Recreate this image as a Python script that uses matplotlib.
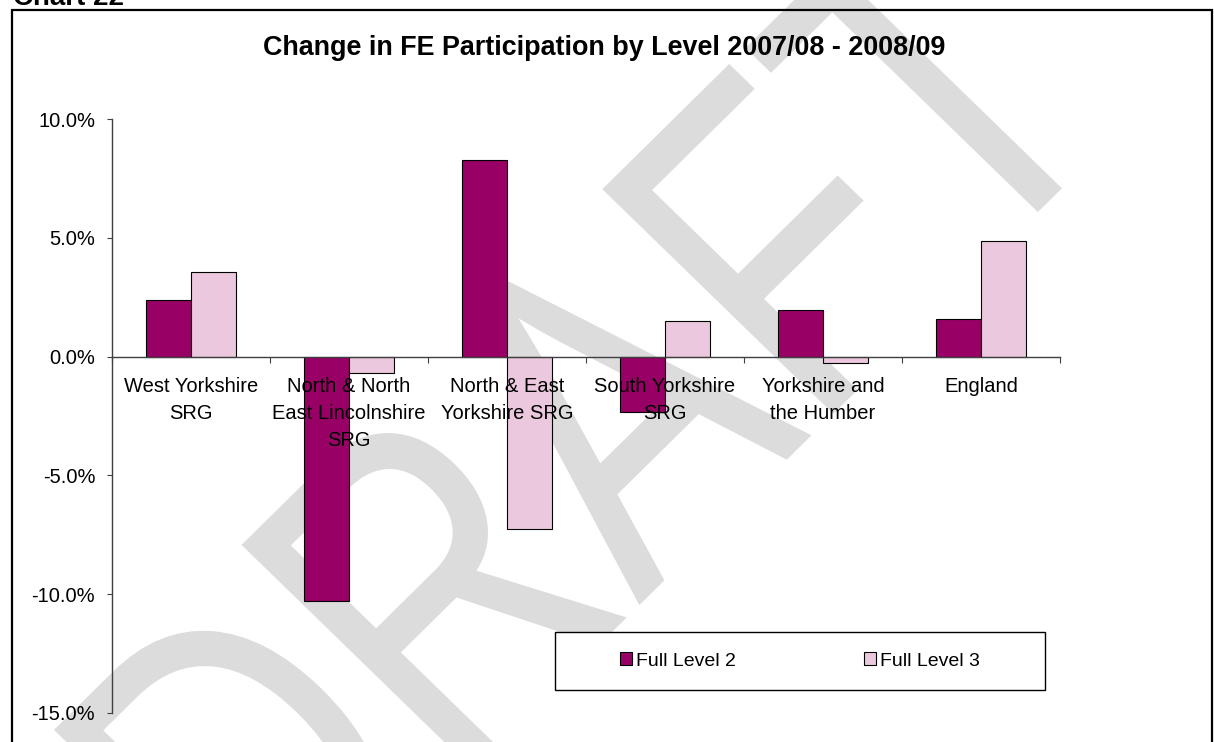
import numpy as np
import matplotlib
matplotlib.use("Agg")
import matplotlib.pyplot as plt
from matplotlib.patches import Rectangle, Patch, PathPatch
from matplotlib.textpath import TextPath
from matplotlib.font_manager import FontProperties
from matplotlib.transforms import Affine2D

plt.rcParams['font.family'] = ['Liberation Sans', 'DejaVu Sans']

# data (percent change)
regions = ["West Yorkshire\nSRG", "North & North\nEast Lincolnshire\nSRG",
           "North & East\nYorkshire SRG", "South Yorkshire\nSRG",
           "Yorkshire and\nthe Humber", "England"]
level2 = [2.38, -10.30, 8.27, -2.35, 1.95, 1.58]
level3 = [3.55, -0.70, -7.27, 1.49, -0.26, 4.88]
yticks = [-15, -10, -5, 0, 5, 10]

c2 = '#990066'
c3 = '#ECC8DE'

W, H = 1214, 742
fig = plt.figure(figsize=(W / 100, H / 100), dpi=100)

def fx(px):
    return px / W

def fy(py):
    return 1 - py / H

# DRAFT watermark: condensed, rotated text in pixel space, behind the chart
wm = TextPath((0, 0), 'DRAFT', size=1, prop=FontProperties(family='Liberation Sans'))
wm_tr = Affine2D(np.array([[259.7, -335.8, 263.7],
                           [256.1, 326.5, H - 975.5],
                           [0, 0, 1]]))
fig.add_artist(PathPatch(wm, transform=wm_tr, fc='#dcdcdc', ec='none', zorder=-1))

ax = fig.add_axes([fx(112), fy(712.7), fx(1060) - fx(112), fy(119.2) - fy(712.7)])
ax.set_facecolor('none')

x = np.arange(len(regions))
w = 0.287
ax.bar(x - w / 2, level2, w, color=c2, edgecolor='black', linewidth=0.8)
ax.bar(x + w / 2, level3, w, color=c3, edgecolor='black', linewidth=0.8)

ax.set_xlim(-0.5, len(regions) - 0.5)
ax.set_ylim(-15, 10)
ax.set_yticks(yticks)
ax.yaxis.set_major_formatter(lambda v, p: f'{v:.1f}%')

for s in ['top', 'right']:
    ax.spines[s].set_visible(False)
ax.spines['bottom'].set_position(('data', 0))
for s in ['bottom', 'left']:
    ax.spines[s].set_color('#404040')
    ax.spines[s].set_linewidth(1)

# tick marks at category boundaries, labels at centres
ax.set_xticks(np.arange(-0.5, len(regions), 1))
ax.set_xticklabels([])
ax.set_xticks(x, minor=True)
ax.set_xticklabels(regions, minor=True)
ax.tick_params(axis='x', which='major', length=4, direction='out', color='#404040')
ax.tick_params(axis='x', which='minor', length=0, pad=15, labelsize=14.5)
for lbl in ax.get_xticklabels(minor=True):
    lbl.set_linespacing(1.52)
ax.tick_params(axis='y', length=3.6, pad=8.5, labelsize=14.5, color='#404040')

fig.text(fx(604), fy(48), 'Change in FE Participation by Level 2007/08 - 2008/09',
         fontsize=19.4, fontweight='bold', ha='center', va='center')

fig.text(fx(13), fy(5), 'Chart 22', fontsize=20, fontweight='bold',
         ha='left', va='baseline')

# outer chart frame
fig.add_artist(Rectangle((fx(12.5), fy(780)), fx(1211.5) - fx(12.5), fy(10) - fy(780),
                         fill=False, ec='black', lw=1.6, transform=fig.transFigure,
                         zorder=2, clip_on=False))

# legend box
fig.add_artist(Rectangle((fx(555), fy(690)), fx(1045) - fx(555), fy(632) - fy(690),
                         fc='white', ec='black', lw=1, transform=fig.transFigure,
                         zorder=1))
handles = [Patch(fc=c2, ec='black', lw=0.8, label='Full Level 2'),
           Patch(fc=c3, ec='black', lw=0.8, label='Full Level 3')]
fig.legend(handles=handles, loc='center', bbox_to_anchor=(fx(800), fy(661)),
           ncol=2, frameon=False, fontsize=14, handlelength=0.6, handleheight=0.6,
           handletextpad=0.2, columnspacing=6.6)

fig.savefig('out.png', dpi=100)
